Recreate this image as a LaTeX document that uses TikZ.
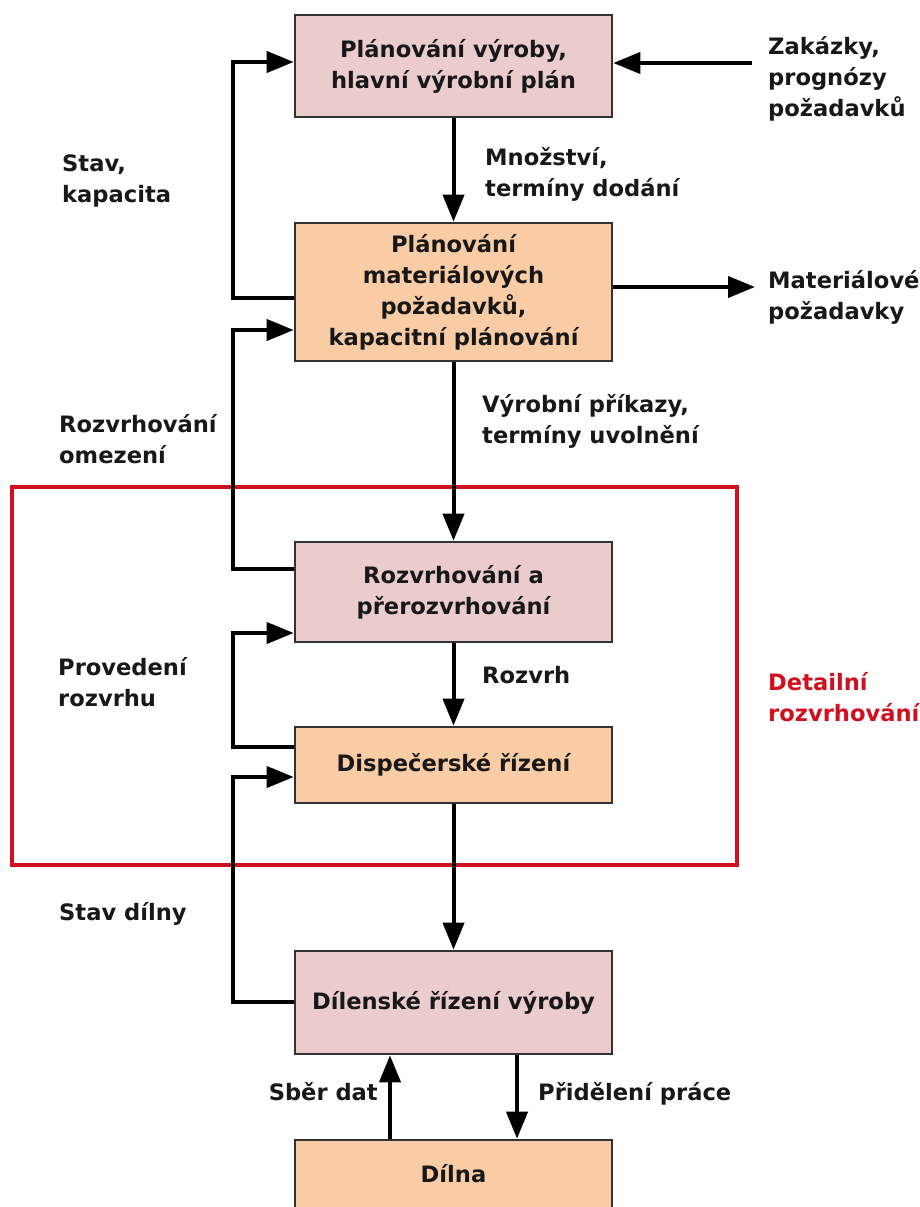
\documentclass[tikz,border=0pt]{standalone}
\usepackage{fontspec}
\setmainfont{DejaVu Sans}
\usetikzlibrary{arrows.meta}

\definecolor{pinkfill}{RGB}{235,204,204}
\definecolor{orangefill}{RGB}{249,204,165}
\definecolor{boxline}{RGB}{50,50,50}
\definecolor{txt}{RGB}{24,24,24}
\definecolor{zonered}{RGB}{208,16,30}

\newcommand{\lbl}{\fontsize{22.6}{31}\selectfont\bfseries}

\tikzset{
  box/.style={draw=boxline, line width=2.6pt, minimum width=317pt, align=center,
              inner sep=0pt, font=\lbl, text=txt},
  pinkbox/.style={box, fill=pinkfill},
  orangebox/.style={box, fill=orangefill},
  link/.style={draw=black, line width=4pt},
  arr/.style={link, -{Triangle[length=27pt,width=21pt]}},
  note/.style={anchor=base west, align=left, inner sep=0pt, font=\lbl, text=txt},
  zone/.style={draw=zonered, line width=3.2pt},
}

\begin{document}
\begin{tikzpicture}[x=1pt,y=-1pt]
\clip (0,0) rectangle (920,1207);
\fill[white] (0,0) rectangle (920,1207);

% detailed scheduling zone
\node[zone, minimum width=725pt, minimum height=378pt, inner sep=0pt] (zone) at (374.5,676) {};
% multi-line notes are placed by the baseline of their last line
\node[note, text=zonered] (zonelbl) at (768,721) {Detailní\\rozvrhování};

% planning chain
\node[pinkbox, minimum height=102pt] (b1) at (453.5,66) {Plánování výroby,\\hlavní výrobní plán};
\node[orangebox, minimum height=138pt] (b2) at (453.5,292) {Plánování\\materiálových\\požadavků,\\kapacitní plánování};
\node[pinkbox, minimum height=100pt] (b3) at (453.5,592) {Rozvrhování a\\přerozvrhování};
\node[orangebox, minimum height=76pt] (b4) at (453.5,765) {Dispečerské řízení};
\node[pinkbox, minimum height=103pt] (b5) at (453.5,1002.5) {Dílenské řízení výroby};
\node[orangebox, minimum height=90pt] (b6) at (453.5,1185) {};
\node[font=\lbl, text=txt, inner sep=0pt] (b6txt) at (453.5,1174) {Dílna};

% downward flow
\draw[arr] (b1.south) -- (b2.north);
\draw[arr] (b2.south) -- (b3.north);
\draw[arr] (b3.south) -- (b4.north);
\draw[arr] (b4.south) -- (b5.north);

% feedback loops on the left
\coordinate (f1a) at (233,298);  \coordinate (f1b) at (233,62);
\coordinate (f2a) at (233,569);  \coordinate (f2b) at (233,330);
\coordinate (f3a) at (233,747);  \coordinate (f3b) at (233,633);
\coordinate (f4a) at (233,1002); \coordinate (f4b) at (233,777);
\draw[arr] (b2.west |- f1a) -- (f1a) -- (f1b) -- (b1.west |- f1b);
\draw[arr] (b3.west |- f2a) -- (f2a) -- (f2b) -- (b2.west |- f2b);
\draw[arr] (b4.west |- f3a) -- (f3a) -- (f3b) -- (b3.west |- f3b);
\draw[arr] (b5.west |- f4a) -- (f4a) -- (f4b) -- (b4.west |- f4b);

% inputs and outputs on the right
\coordinate (orders) at (752,63);
\coordinate (matreq) at (755,287);
\draw[arr] (orders) -- (b1.east |- orders);
\draw[arr] (b2.east |- matreq) -- (matreq);

% shop floor exchange
\coordinate (upx) at (390,0);
\coordinate (downx) at (517,0);
\draw[arr] (b6.north -| upx) -- (b5.south -| upx);
\draw[arr] (b5.south -| downx) -- (b6.north -| downx);

% connector labels
\node[note] (l1) at (485,196) {Množství,\\termíny dodání};
\node[note] (l2) at (768,116) {Zakázky,\\prognózy\\požadavků};
\node[note] (l3) at (62,202) {Stav,\\kapacita};
\node[note] (l4) at (768,319) {Materiálové\\požadavky};
\node[note] (l5) at (59,463) {Rozvrhování\\omezení};
\node[note] (l6) at (482,443) {Výrobní příkazy,\\termíny uvolnění};
\node[note] (l7) at (58,706) {Provedení\\rozvrhu};
\node[note] (l8) at (482,683) {Rozvrh};
\node[note] (l9) at (59,920) {Stav dílny};
\node[note, anchor=base east] (l10) at (378,1100) {Sběr dat};
\node[note] (l11) at (538,1100) {Přidělení práce};
\end{tikzpicture}
\end{document}
